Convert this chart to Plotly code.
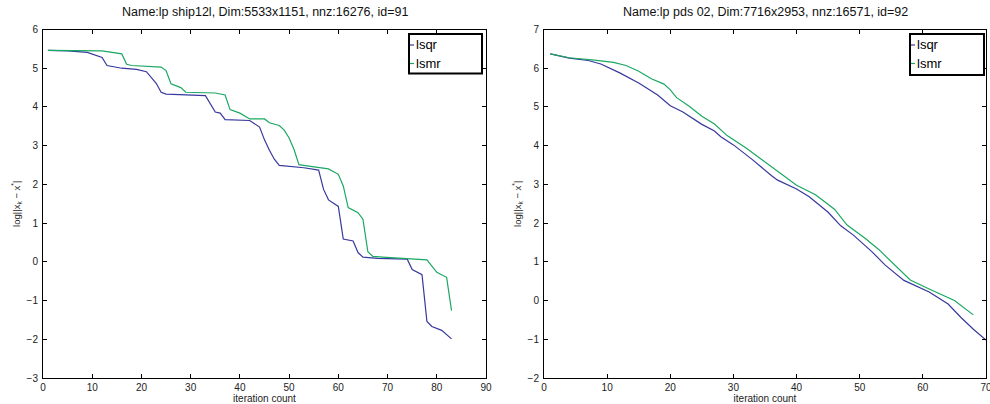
import plotly.graph_objects as go

# ---------------- data ----------------
left_title = "Name:lp ship12l, Dim:5533x1151, nnz:16276, id=91"
right_title = "Name:lp pds 02, Dim:7716x2953, nnz:16571, id=92"

left_lsqr_iter = [1, 5, 9, 12, 13, 16, 19, 21, 23, 24, 25, 33, 35, 36, 37, 42, 44, 45, 46, 47, 48,
                  53, 56, 57, 58, 60, 61, 63, 64, 65, 68, 74, 75, 77, 78, 79, 81, 83]
left_lsqr_val = [5.46, 5.45, 5.41, 5.28, 5.07, 5.00, 4.97, 4.91, 4.61, 4.38, 4.33, 4.29, 3.87, 3.84,
                 3.67, 3.65, 3.48, 3.15, 2.88, 2.65, 2.49, 2.43, 2.37, 1.87, 1.60, 1.43, 0.59, 0.54,
                 0.24, 0.12, 0.09, 0.07, -0.20, -0.33, -1.54, -1.67, -1.77, -1.99]

left_lsmr_iter = [1, 12, 16, 17, 18, 24, 25, 26, 28, 29, 35, 37, 38, 40, 42, 45, 46, 48, 49, 50, 51,
                  52, 54, 58, 60, 61, 62, 64, 65, 66, 67, 69, 78, 80, 82, 83]
left_lsmr_val = [5.46, 5.45, 5.37, 5.10, 5.07, 5.03, 4.94, 4.60, 4.50, 4.38, 4.36, 4.31, 3.93, 3.84,
                 3.69, 3.69, 3.59, 3.52, 3.40, 3.20, 2.90, 2.51, 2.47, 2.40, 2.26, 1.96, 1.40, 1.27,
                 1.10, 0.26, 0.14, 0.12, 0.05, -0.27, -0.40, -1.26]

right_lsqr_iter = [1, 4, 7, 9, 12, 15, 18, 20, 22, 25, 27, 28, 30, 33, 36, 37, 40, 42, 45, 47, 49,
                   52, 54, 57, 61, 64, 66, 68, 70]
right_lsqr_val = [6.37, 6.26, 6.20, 6.11, 5.88, 5.62, 5.31, 5.03, 4.87, 4.55, 4.38, 4.23, 4.02, 3.64,
                  3.23, 3.11, 2.88, 2.68, 2.28, 1.93, 1.69, 1.25, 0.92, 0.52, 0.22, -0.09, -0.43,
                  -0.74, -1.02]

right_lsmr_iter = [1, 4, 8, 11, 13, 15, 17, 19, 20, 21, 23, 25, 27, 29, 32, 36, 39, 40, 43, 46, 48,
                   51, 53, 56, 58, 61, 65, 68]
right_lsmr_val = [6.37, 6.27, 6.21, 6.15, 6.07, 5.92, 5.73, 5.59, 5.44, 5.24, 5.02, 4.76, 4.56, 4.26,
                  3.94, 3.45, 3.08, 2.98, 2.73, 2.36, 1.95, 1.59, 1.32, 0.85, 0.53, 0.30, 0.00, -0.37]

series_names = ["lsqr", "lsmr"]
left_xticks = [0, 10, 20, 30, 40, 50, 60, 70, 80, 90]
left_yticks = [-3, -2, -1, 0, 1, 2, 3, 4, 5, 6]
right_xticks = [0, 10, 20, 30, 40, 50, 60, 70]
right_yticks = [-2, -1, 0, 1, 2, 3, 4, 5, 6, 7]

# ---------------- style ----------------
W, H = 990, 404
BLUE = "#38389e"
GREEN = "#1aa862"
FONT = "Liberation Sans, Arial, sans-serif"


def px_x(p):
    return p / W


def px_y(p):
    return (H - p) / H


fig = go.Figure()
fig.add_trace(go.Scatter(x=left_lsqr_iter, y=left_lsqr_val, mode="lines", name=series_names[0],
                         line=dict(color=BLUE, width=1.2), xaxis="x", yaxis="y", showlegend=False))
fig.add_trace(go.Scatter(x=left_lsmr_iter, y=left_lsmr_val, mode="lines", name=series_names[1],
                         line=dict(color=GREEN, width=1.2), xaxis="x", yaxis="y", showlegend=False))
fig.add_trace(go.Scatter(x=right_lsqr_iter, y=right_lsqr_val, mode="lines", name=series_names[0],
                         line=dict(color=BLUE, width=1.2), xaxis="x2", yaxis="y2", showlegend=False))
fig.add_trace(go.Scatter(x=right_lsmr_iter, y=right_lsmr_val, mode="lines", name=series_names[1],
                         line=dict(color=GREEN, width=1.2), xaxis="x2", yaxis="y2", showlegend=False))

ydom = [px_y(378), px_y(29.5)]
axis_common = dict(showline=True, linecolor="black", linewidth=1, mirror="ticks",
                   ticks="inside", ticklen=4, tickcolor="black", showgrid=False, zeroline=False,
                   automargin=False, ticklabeloverflow="allow",
                   tickfont=dict(family=FONT, size=10, color="#222"))
ytitle = "log||x<sub>k</sub> − x<sup>*</sup>|"
xt = dict(text="iteration count", font=dict(size=10), standoff=4)
yt = dict(text=ytitle, font=dict(size=9.5), standoff=4)

fig.update_layout(
    width=W, height=H, margin=dict(l=0, r=0, t=0, b=0),
    template="none",
    paper_bgcolor="white", plot_bgcolor="white",
    font=dict(family=FONT, color="#222"),
    xaxis=dict(domain=[px_x(43), px_x(486)], range=[0, 90], tickvals=left_xticks, anchor="y",
               title=xt, **axis_common),
    yaxis=dict(domain=ydom, range=[-3, 6], tickvals=left_yticks, anchor="x",
               ticklabelstandoff=2, title=yt, **axis_common),
    xaxis2=dict(domain=[px_x(544), px_x(986)], range=[0, 70], tickvals=right_xticks, anchor="y2",
                title=xt, **axis_common),
    yaxis2=dict(domain=ydom, range=[-2, 7], tickvals=right_yticks, anchor="x2",
                ticklabelstandoff=2, title=yt, **axis_common),
)

# titles
for title, x0, x1 in [(left_title, 43, 486), (right_title, 544, 986)]:
    fig.add_annotation(text=title, x=px_x((x0 + x1) / 2), y=px_y(12), xref="paper", yref="paper",
                       showarrow=False, xanchor="center", yanchor="middle",
                       font=dict(family=FONT, size=12.5, color="#111"))

# legends (boxes with entries)
for bx0, bx1, by0, by1 in [(409, 482, 34, 73.5), (910, 984, 34, 75)]:
    fig.add_shape(type="rect", xref="paper", yref="paper",
                  x0=px_x(bx0), x1=px_x(bx1), y0=px_y(by1), y1=px_y(by0),
                  line=dict(color="black", width=2), fillcolor="white", layer="above")
    for name, color, yy in [(series_names[0], BLUE, by0 + 11), (series_names[1], GREEN, by0 + 29.5)]:
        fig.add_shape(type="line", xref="paper", yref="paper",
                      x0=px_x(bx0 + 1), x1=px_x(bx0 + 5), y0=px_y(yy), y1=px_y(yy),
                      line=dict(color=color, width=1.2), layer="above")
        fig.add_annotation(text=name, x=px_x(bx0 + 5), y=px_y(yy), xref="paper", yref="paper",
                           showarrow=False, xanchor="left", yanchor="middle",
                           font=dict(family=FONT, size=13, color="black"))

fig.write_html("out.html")
